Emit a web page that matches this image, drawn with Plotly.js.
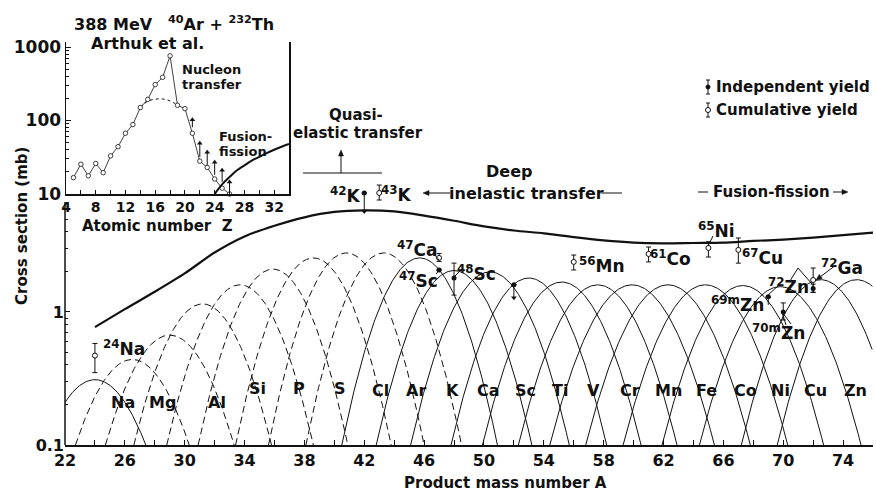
<!DOCTYPE html>
<html>
<head>
<meta charset="utf-8">
<script src="https://cdn.plot.ly/plotly-3.0.1.min.js"></script>
<style>
  html, body { margin: 0; padding: 0; background: #fff; }
  #chart { width: 876px; height: 493px; }
</style>
</head>
<body>
<div id="chart"></div>
<script>
// ---- Isotopic distributions (Gaussian in A, parabola on the log scale) ----
const elements   = ['Na','Mg','Al','Si','P','S','Cl','Ar','K','Ca','Sc','Ti','V','Cr','Mn','Fe','Co','Ni','Cu','Zn','Ga','Ge'];
const centroids  = [24.0,26.5,29.0,31.2,33.7,35.9,38.6,40.8,43.3,45.7,48.0,50.4,53.0,55.2,57.6,59.9,62.3,64.8,67.3,69.8,72.5,74.9];
const peaks      = [0.31,0.44,0.67,1.15,1.60,2.10,2.55,2.78,2.78,2.55,2.05,2.00,1.80,1.68,1.60,1.60,1.60,1.60,1.58,1.55,1.75,1.75];
const halfWidths = [3.4,3.8,4.3,4.6,4.9,5.0,5.2,5.2,5.2,5.2,5.2,5.3,5.2,5.3,5.3,5.5,5.5,5.5,5.4,5.4,5.3,5.3];
const dashedElements = ['Mg','Al','Si','P','S','Cl','Ar','K'];

// ---- Mass-yield envelope (mb) ----
const envMass  = [24,26,28,30,32,34,36,38,40,42,44,46,48,50,52,54,56,58,60,62,64,66,68,70,72,74,76];
const envValue = [0.77,1.05,1.42,1.95,2.8,3.7,4.45,5.15,5.65,5.8,5.7,5.3,4.85,4.4,4.1,3.9,3.65,3.45,3.32,3.28,3.3,3.32,3.42,3.5,3.62,3.78,3.95];

// ---- Measured yields (mb) ----
const indepMass  = [42, 47, 48, 52, 69, 70, 72];
const indepValue = [7.85, 2.07, 1.80, 1.60, 1.30, 1.00, 1.50];
const indepHigh  = [7.85, 2.07, 2.33, 1.60, 1.30, 1.17, 1.62];
const indepLow   = [7.85, 2.07, 1.34, 1.60, 1.30, 0.87, 1.40];

const cumMass  = [24, 43, 47, 56, 61, 65, 67, 72];
const cumValue = [0.47, 7.85, 2.55, 2.38, 2.73, 3.03, 2.93, 1.74];
const cumHigh  = [0.58, 9.0, 2.75, 2.68, 3.08, 3.37, 3.60, 2.14];
const cumLow   = [0.35, 6.95, 2.40, 2.07, 2.38, 2.59, 2.33, 1.41];

// limits: arrow from -> to
const limitMass = [42, 52, 69];
const limitFrom = [7.85, 1.60, 1.13];
const limitTo   = [5.70, 1.28, 1.30];

// ---- Inset: yields vs atomic number ----
const insetZ     = [5,6,7,8,9,10,11,12,13,14,15,16,17,18,19,20,21,22,23,24,25,26];
const insetValue = [16.7,25.4,17.7,26,19.5,33,44,67,88,150,194,308,387,758,161,145,67,28,23,16,12,10];
const humpZ      = [14,15,16,17,18,19];
const humpValue  = [150,183,195,196,185,161];
const fusionZ    = [24,25,26,27,28,29,30,31,32,33,34];
const fusionValue= [10,13.5,17,21,24.5,28.5,32,36,40,44,48];
const insetLimZ    = [21,22,23,24,25,26];
const insetLimFrom = [81,32,23.3,18.2,14.6,10.3];
const insetLimTo   = [102,49,37,27,21,14.6];

// ---- Tick labels ----
const massTicks   = [22,26,30,34,38,42,46,50,54,58,62,66,70,74];
const sigmaTicks  = [0.1, 1];
const sigmaLabels = ['0.1', '1'];
const sigmaMinor  = [0.2,0.3,0.4,0.5,0.6,0.7,0.8,0.9,2,3,4,5,6];
const zTicks      = [4,8,12,16,20,24,28,32];
const insetTicks  = [10,100,1000];
const insetLabels = ['10','100','1000'];
const insetMinor  = [20,30,40,50,60,70,80,90,200,300,400,500,600,700,800,900];

// ---------------------------------------------------------------
const W = 876, H = 493;
const PX = p => p / W;          // pixel -> paper x
const PY = p => 1 - p / H;      // pixel -> paper y
const FONT = 'DejaVu Sans';
const INK = '#111';

const traces = [];

elements.forEach((el, i) => {
  const a0 = centroids[i], h = halfWidths[i], lp = Math.log10(peaks[i]);
  const xs = [], ys = [];
  for (let k = 0; k <= 160; k++) {
    const a = a0 - h + 2 * h * k / 160;
    if (a < 22 || a > 76) continue;
    const u = (a - a0) / h;
    xs.push(a);
    ys.push(Math.pow(10, lp - (lp + 1) * u * u));
  }
  traces.push({
    type: 'scatter', mode: 'lines', x: xs, y: ys, xaxis: 'x', yaxis: 'y',
    line: { color: INK, width: 1, dash: dashedElements.includes(el) ? '7px,4px' : 'solid' },
    hoverinfo: 'skip', name: el
  });
});

traces.push({
  type: 'scatter', mode: 'lines', x: envMass, y: envValue, xaxis: 'x', yaxis: 'y',
  line: { color: INK, width: 2.2, shape: 'spline', smoothing: 0.8 }, hoverinfo: 'skip', name: 'envelope'
});

// limit arrows: shaft + triangular head, drawn through the axes
function limitTraces(xs, from, to, xa, ya) {
  const lx = [], ly = [];
  xs.forEach((x, i) => { lx.push(x, x, null); ly.push(from[i], to[i], null); });
  return [
    { type: 'scatter', mode: 'lines', x: lx, y: ly, xaxis: xa, yaxis: ya,
      line: { color: INK, width: 1 }, hoverinfo: 'skip', cliponaxis: false },
    { type: 'scatter', mode: 'markers', x: xs, y: to, xaxis: xa, yaxis: ya,
      marker: { symbol: to.map((v, i) => v > from[i] ? 'triangle-up' : 'triangle-down'), size: 5, color: INK },
      hoverinfo: 'skip', cliponaxis: false }
  ];
}
traces.push(...limitTraces(limitMass, limitFrom, limitTo, 'x', 'y'));

traces.push({
  type: 'scatter', mode: 'markers', x: indepMass, y: indepValue, xaxis: 'x', yaxis: 'y',
  marker: { symbol: 'circle', size: 5, color: INK },
  error_y: {
    type: 'data', symmetric: false,
    array: indepHigh.map((v, i) => v - indepValue[i]),
    arrayminus: indepValue.map((v, i) => v - indepLow[i]),
    color: INK, thickness: 1, width: 2.5
  },
  hoverinfo: 'skip', name: 'Independent yield'
});

traces.push({
  type: 'scatter', mode: 'markers', x: cumMass, y: cumValue, xaxis: 'x', yaxis: 'y',
  marker: { symbol: 'circle', size: 5, color: '#fff', line: { color: INK, width: 1 } },
  error_y: {
    type: 'data', symmetric: false,
    array: cumHigh.map((v, i) => v - cumValue[i]),
    arrayminus: cumValue.map((v, i) => v - cumLow[i]),
    color: INK, thickness: 1, width: 2.5
  },
  hoverinfo: 'skip', name: 'Cumulative yield'
});

// inset traces
traces.push({
  type: 'scatter', mode: 'lines', x: humpZ, y: humpValue, xaxis: 'x2', yaxis: 'y2',
  line: { color: INK, width: 1, dash: '3px,3px', shape: 'spline' }, hoverinfo: 'skip'
});
traces.push(...limitTraces(insetLimZ, insetLimFrom, insetLimTo, 'x2', 'y2'));
traces.push({
  type: 'scatter', mode: 'lines+markers', x: insetZ, y: insetValue, xaxis: 'x2', yaxis: 'y2',
  line: { color: INK, width: 0.8 },
  marker: { symbol: 'circle', size: 4.5, color: '#fff', line: { color: INK, width: 0.8 } },
  hoverinfo: 'skip', cliponaxis: false
});
traces.push({
  type: 'scatter', mode: 'lines', x: fusionZ, y: fusionValue, xaxis: 'x2', yaxis: 'y2',
  line: { color: INK, width: 2, shape: 'spline' }, hoverinfo: 'skip'
});

// ---------------------------------------------------------------
const annotations = [];
const shapes = [];

function text(t, x, y, size, opts = {}) {
  annotations.push(Object.assign({
    text: t, x: PX(x), y: PY(y), xref: 'paper', yref: 'paper', showarrow: false,
    xanchor: 'center', yanchor: 'middle',
    font: { family: FONT, size: size, color: INK, weight: 700 }
  }, opts));
}
function line(x0, y0, x1, y1, w = 1) {
  shapes.push({ type: 'line', xref: 'paper', yref: 'paper', x0: PX(x0), y0: PY(y0), x1: PX(x1), y1: PY(y1),
    line: { color: INK, width: w } });
}
// arrow from tail (xt, yt) to head (xh, yh), pixel coordinates
function arrow(xt, yt, xh, yh) {
  const dx = xh - xt, dy = yh - yt, L = Math.hypot(dx, dy);
  const ux = dx / L, uy = dy / L, len = 6, hw = 2.5;
  const bx = xh - ux * len, by = yh - uy * len;
  line(xt, yt, bx, by);
  const p1 = [bx - uy * hw, by + ux * hw], p2 = [bx + uy * hw, by - ux * hw];
  shapes.push({ type: 'path', xref: 'paper', yref: 'paper',
    path: `M ${PX(xh)} ${PY(yh)} L ${PX(p1[0])} ${PY(p1[1])} L ${PX(p2[0])} ${PY(p2[1])} Z`,
    fillcolor: INK, line: { color: INK, width: 0.5 } });
}

// main y axis line (stops below the inset)
line(65, 445, 65, 202, 1.5);

// axis titles
text('Product mass number A', 505, 483, 15);
text('Cross section (mb)', 22, 226, 15, { textangle: -90 });

// element labels
const labelPos = {
  Na: [123, 402], Mg: [162, 402], Al: [217, 402], Si: [257, 388], P: [299, 388], S: [340, 388],
  Cl: [380, 390], Ar: [416, 390], K: [452, 390], Ca: [488, 390], Sc: [525, 390], Ti: [560, 390],
  V: [593, 390], Cr: [630, 390], Mn: [668, 390], Fe: [706, 390], Co: [745, 390], Ni: [780, 390],
  Cu: [815, 390], Zn: [855, 390]
};
Object.keys(labelPos).forEach(k => text(k, labelPos[k][0], labelPos[k][1], 16));

// isotope labels
text('<sup>24</sup>Na', 124, 348, 17);
text('<sup>42</sup>K', 345, 195, 17);
text('<sup>43</sup>K', 396, 194, 17);
text('<sup>47</sup>Ca', 417, 249, 17);
text('<sup>47</sup>Sc', 418, 280, 17);
text('<sup>48</sup>Sc', 477, 273, 17);
text('<sup>56</sup>Mn', 602, 265, 17);
text('<sup>61</sup>Co', 670, 258, 17);
text('<sup>65</sup>Ni', 716, 230, 17);
text('<sup>67</sup>Cu', 762, 257, 17);
text('<sup>72</sup>Ga', 842, 267, 17);
text('<sup>72</sup>Zn', 788, 286, 17);
text('<sup>69m</sup>Zn', 737, 304, 17);
text('<sup>70m</sup>Zn', 778, 332, 17);

// pointer lines to the points
line(434, 254, 439, 260);
line(436, 274, 441, 268);
line(460, 271, 453, 278);
line(713, 236, 708, 246);
line(767, 296, 779, 285);
line(782, 312, 791, 324);
line(782, 312, 786, 325);
line(790, 281, 798, 268);
line(798, 268, 812, 284);
arrow(836, 265, 816, 280);

// process annotations
text('Quasi-', 356, 115, 15);
text('elastic transfer', 358, 133, 15);
line(303, 173, 382, 173, 1);
arrow(341, 173, 341, 150);
text('Deep', 509, 172, 16);
text('inelastic transfer', 526, 193, 16);
arrow(450, 193, 423, 193);
line(601, 193, 622, 193);
text('Fusion-fission', 771, 192, 15);
line(698, 192, 708, 192);
arrow(833, 192, 848, 192);

// key
line(708, 80, 708, 94); line(706, 80, 710, 80); line(706, 94, 710, 94);
shapes.push({ type: 'circle', xref: 'paper', yref: 'paper', x0: PX(706), x1: PX(710), y0: PY(85), y1: PY(89),
  fillcolor: INK, line: { color: INK, width: 1 } });
line(708, 103, 708, 117); line(706, 103, 710, 103); line(706, 117, 710, 117);
shapes.push({ type: 'circle', xref: 'paper', yref: 'paper', x0: PX(705.5), x1: PX(710.5), y0: PY(107.5), y1: PY(112.5),
  fillcolor: '#fff', line: { color: INK, width: 1 } });
text('Independent yield', 714, 87, 15, { xanchor: 'left' });
text('Cumulative yield', 714, 110, 15, { xanchor: 'left' });

// inset texts
text('388 MeV', 72, 25, 16, { xanchor: 'left' });
text('<sup>40</sup>Ar + <sup>232</sup>Th', 166, 23, 16, { xanchor: 'left' });
text('Arthuk et al.', 147, 44, 16);
text('Nucleon', 180, 70, 13, { xanchor: 'left' });
text('transfer', 180, 84, 13, { xanchor: 'left' });
text('Fusion-', 217, 137, 13, { xanchor: 'left' });
text('fission', 217, 151, 13, { xanchor: 'left' });
text('Atomic number  Z', 157, 226, 15);

// ---------------------------------------------------------------
const layout = {
  width: W, height: H,
  margin: { l: 0, r: 0, t: 0, b: 0 },
  paper_bgcolor: '#fff', plot_bgcolor: 'rgba(0,0,0,0)',
  showlegend: false,
  font: { family: FONT, color: INK, weight: 700 },
  xaxis: {
    domain: [PX(65), PX(873)], range: [22, 76], anchor: 'y',
    tickmode: 'array', tickvals: massTicks, ticks: 'inside', ticklen: 5, tickwidth: 1, tickcolor: INK,
    minor: { tickmode: 'linear', tick0: 22, dtick: 2, ticks: 'inside', ticklen: 5, tickwidth: 1, tickcolor: INK, showgrid: false },
    showline: true, linewidth: 1.5, linecolor: INK, showgrid: false, zeroline: false,
    tickfont: { family: FONT, size: 16, color: INK, weight: 700 }
  },
  yaxis: {
    domain: [PY(445), PY(5)], type: 'log', range: [-1, 2.308], anchor: 'x',
    tickmode: 'array', tickvals: sigmaTicks, ticktext: sigmaLabels,
    ticks: 'inside', ticklen: 5, tickwidth: 1, tickcolor: INK,
    minor: { tickmode: 'array', tickvals: sigmaMinor, ticks: 'inside', ticklen: 3, tickwidth: 1, tickcolor: INK, showgrid: false },
    showline: false, showgrid: false, zeroline: false,
    tickfont: { family: FONT, size: 16, color: INK, weight: 700 }
  },
  xaxis2: {
    domain: [PX(66), PX(289)], range: [4, 34], anchor: 'y2',
    tickmode: 'array', tickvals: zTicks, ticks: 'inside', ticklen: 4, tickwidth: 1, tickcolor: INK,
    minor: { tickmode: 'linear', tick0: 4, dtick: 2, ticks: 'inside', ticklen: 4, tickwidth: 1, tickcolor: INK, showgrid: false },
    showline: true, linewidth: 1.5, linecolor: INK, showgrid: false, zeroline: false,
    tickfont: { family: FONT, size: 14, color: INK, weight: 700 }
  },
  yaxis2: {
    domain: [PY(194), PY(42)], type: 'log', range: [1, 3.068], anchor: 'x2',
    tickmode: 'array', tickvals: insetTicks, ticktext: insetLabels,
    ticks: 'inside', ticklen: 5, tickwidth: 1, tickcolor: INK,
    minor: { tickmode: 'array', tickvals: insetMinor, ticks: 'inside', ticklen: 3, tickwidth: 1, tickcolor: INK, showgrid: false },
    showline: true, mirror: true, linewidth: 1.5, linecolor: INK, showgrid: false, zeroline: false,
    tickfont: { family: FONT, size: 17, color: INK, weight: 700 }
  },
  annotations: annotations,
  shapes: shapes
};

Plotly.newPlot('chart', traces, layout, { staticPlot: true, displayModeBar: false });
</script>
</body>
</html>
